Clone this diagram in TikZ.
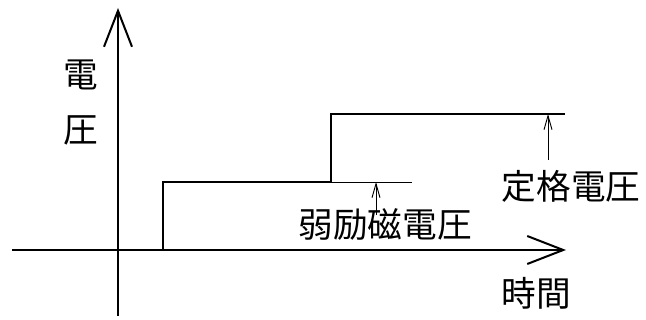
\documentclass[tikz,border=0pt]{standalone}
\usepackage{fontspec}
\setmainfont{Noto Sans CJK JP}
\usetikzlibrary{arrows.meta}

\tikzset{
    axisline/.style={line width=1.5pt, -{Straight Barb[length=27pt, width=21pt, line width=1.5pt]}},
    stepline/.style={line width=1.5pt},
    markline/.style={line width=0.7pt},
    markarrow/.style={line width=0.7pt, -{Straight Barb[length=10.5pt, width=6pt, line width=0.7pt]}},
    label/.style={inner sep=0pt, font=\fontsize{26}{26}\selectfont}
}

\begin{document}
\begin{tikzpicture}[x=0.75pt, y=-0.75pt]
    \useasboundingbox (0,0) rectangle (646,320);

    % Axes
    \coordinate (xstart) at (12,250);
    \coordinate (xend) at (566,250);
    \coordinate (ystart) at (118,316);
    \coordinate (yend) at (118,8);
    \draw[axisline] (xstart) -- (xend);
    \draw[axisline] (ystart) -- (yend);

    % Step
    \coordinate (s0) at (163,250);
    \coordinate (s1) at (163,182);
    \coordinate (s2) at (331,182);
    \coordinate (s3) at (331,114);
    \coordinate (s4) at (565,114);
    \draw[stepline] (s0) -- (s1) -- (s2) -- (s3) -- (s4);
    \coordinate (weakend) at (412,182);
    \draw[markline] (s2) -- (weakend);

    % Labels
    \node[label] (volt1) at (81,75) {電};
    \node[label] (volt2) at (81,130) {圧};
    \node[label] (time) at (536,293) {時間};
    \node[label] (weak) at (385,225) {弱励磁電圧};
    \node[label] (rated) at (571,186) {定格電圧};

    % Marks
    \coordinate (weakfoot) at (376,215);
    \coordinate (weaktop) at (376,182);
    \coordinate (ratedfoot) at (548,160);
    \coordinate (ratedtop) at (548,114);
    \draw[markarrow] (weakfoot) -- (weaktop);
    \draw[markarrow] (ratedfoot) -- (ratedtop);
\end{tikzpicture}
\end{document}
